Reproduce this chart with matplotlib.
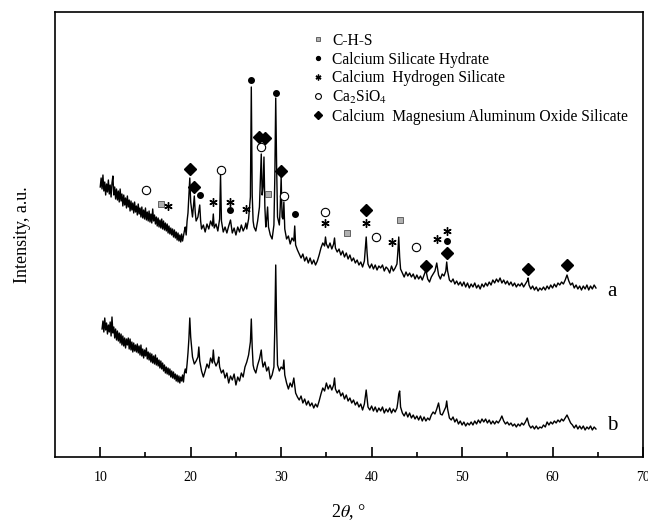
import matplotlib
matplotlib.use("Agg")
import matplotlib.pyplot as plt
from matplotlib.lines import Line2D

plt.rcParams["font.family"] = ["Liberation Serif", "DejaVu Serif"]
plt.rcParams["mathtext.fontset"] = "stix"

# XRD scans (2theta in degrees, intensity in arbitrary units)
scan_a = [
    (10.0, 270), (10.1, 279), (10.2, 268), (10.3, 282), (10.4, 266), (10.5, 275), (10.6, 262), (10.7, 273), (10.8, 265), (10.9, 277),
    (11.0, 263), (11.1, 272), (11.2, 260), (11.3, 274), (11.4, 281), (11.5, 262), (11.6, 270), (11.7, 258), (11.8, 268), (11.9, 257),
    (12.0, 266), (12.1, 255), (12.2, 268), (12.3, 256), (12.4, 263), (12.5, 251), (12.6, 262), (12.7, 252), (12.8, 259), (12.9, 249),
    (13.0, 261), (13.1, 250), (13.2, 257), (13.3, 246), (13.4, 256), (13.5, 247), (13.6, 254), (13.7, 244), (13.8, 255), (13.9, 245),
    (14.0, 251), (14.1, 242), (14.2, 253), (14.3, 243), (14.4, 249), (14.5, 240), (14.6, 250), (14.7, 239), (14.8, 247), (14.9, 238),
    (15.0, 249), (15.1, 237), (15.2, 245), (15.3, 236), (15.4, 246), (15.5, 235), (15.6, 243), (15.7, 234), (15.8, 248), (15.9, 236),
    (16.0, 242), (16.1, 233), (16.2, 240), (16.3, 231), (16.4, 239), (16.5, 230), (16.6, 237), (16.7, 229), (16.8, 238), (16.9, 228),
    (17.0, 236), (17.1, 227), (17.2, 234), (17.3, 226), (17.4, 233), (17.5, 224), (17.6, 231), (17.7, 223), (17.8, 229), (17.9, 222),
    (18.0, 228), (18.1, 220), (18.2, 227), (18.3, 219), (18.4, 225), (18.5, 217), (18.6, 224), (18.7, 216), (18.8, 222), (18.9, 215),
    (19.0, 223), (19.1, 216), (19.2, 221), (19.3, 226), (19.4, 230), (19.5, 222), (19.6, 236), (19.7, 244), (19.8, 262), (19.9, 279),
    (20.0, 255), (20.2, 240), (20.4, 261), (20.5, 245), (20.6, 236), (20.8, 240),
    (21.0, 252), (21.1, 236), (21.2, 228), (21.4, 232), (21.6, 225), (21.8, 233),
    (22.0, 228), (22.2, 236), (22.4, 231), (22.5, 243), (22.6, 229), (22.8, 233),
    (23.0, 226), (23.2, 238), (23.3, 282), (23.4, 236), (23.6, 225), (23.8, 230),
    (24.0, 224), (24.2, 231), (24.4, 237), (24.6, 224), (24.8, 229),
    (25.0, 222), (25.2, 230), (25.4, 225), (25.6, 232), (25.8, 226),
    (26.0, 230), (26.1, 234), (26.2, 228), (26.4, 238), (26.6, 260), (26.7, 370),
    (26.8, 262), (26.9, 236), (27.0, 230), (27.2, 226), (27.4, 236), (27.6, 250),
    (27.8, 303), (27.9, 262), (28.0, 270), (28.1, 300), (28.2, 250), (28.3, 230),
    (28.4, 238), (28.5, 250), (28.6, 230), (28.8, 222),
    (29.0, 218), (29.2, 232), (29.3, 280), (29.4, 359), (29.5, 290), (29.6, 240),
    (29.8, 232), (29.9, 250), (30.0, 280), (30.1, 240), (30.2, 238), (30.3, 255),
    (30.4, 228), (30.6, 218), (30.8, 221),
    (31.0, 213), (31.2, 219), (31.4, 216), (31.5, 231), (31.6, 212), (31.8, 207),
    (32.0, 203), (32.2, 199), (32.4, 203), (32.6, 196), (32.8, 200),
    (33.0, 194), (33.2, 199), (33.4, 193), (33.6, 197), (33.8, 192),
    (34.0, 196), (34.2, 202), (34.4, 209), (34.6, 214), (34.8, 211), (34.9, 220),
    (35.0, 213), (35.2, 209), (35.4, 214), (35.6, 208), (35.8, 213), (35.9, 219),
    (36.0, 209), (36.2, 205), (36.4, 208), (36.6, 202), (36.8, 206),
    (37.0, 200), (37.2, 204), (37.4, 198), (37.6, 202), (37.8, 196),
    (38.0, 199), (38.2, 194), (38.4, 197), (38.6, 192), (38.8, 195),
    (39.0, 190), (39.2, 196), (39.4, 220), (39.5, 204), (39.6, 193), (39.8, 189),
    (40.0, 193), (40.2, 188), (40.4, 192), (40.6, 187), (40.8, 191),
    (41.0, 189), (41.2, 192), (41.4, 186), (41.6, 190), (41.8, 188),
    (42.0, 184), (42.2, 191), (42.4, 186), (42.6, 189), (42.8, 193), (42.9, 205),
    (43.0, 220), (43.1, 200), (43.2, 188), (43.4, 184), (43.6, 180), (43.8, 185),
    (44.0, 181), (44.2, 184), (44.4, 180), (44.6, 183), (44.8, 178),
    (45.0, 182), (45.2, 178), (45.4, 181), (45.6, 177), (45.8, 182),
    (46.0, 187), (46.2, 178), (46.4, 175), (46.6, 180), (46.8, 183),
    (47.0, 186), (47.2, 194), (47.4, 182), (47.6, 178), (47.8, 183),
    (48.0, 181), (48.2, 186), (48.3, 195), (48.4, 186), (48.6, 177), (48.8, 175),
    (49.0, 178), (49.2, 173), (49.4, 176), (49.6, 172), (49.8, 175),
    (50.0, 171), (50.2, 175), (50.4, 170), (50.6, 174), (50.8, 169),
    (51.0, 173), (51.2, 170), (51.4, 174), (51.6, 169), (51.8, 172),
    (52.0, 168), (52.2, 173), (52.4, 170), (52.6, 174), (52.8, 171),
    (53.0, 175), (53.2, 172), (53.4, 177), (53.6, 174), (53.8, 178),
    (54.0, 175), (54.2, 179), (54.4, 174), (54.6, 177), (54.8, 173),
    (55.0, 176), (55.2, 172), (55.4, 175), (55.6, 171), (55.8, 174),
    (56.0, 170), (56.2, 173), (56.4, 171), (56.6, 174), (56.8, 170),
    (57.0, 173), (57.2, 176), (57.3, 179), (57.4, 172), (57.6, 168), (57.8, 171),
    (58.0, 167), (58.2, 170), (58.4, 166), (58.6, 169), (58.8, 167),
    (59.0, 170), (59.2, 167), (59.4, 171), (59.6, 168), (59.8, 172),
    (60.0, 169), (60.2, 173), (60.4, 170), (60.6, 174), (60.8, 172),
    (61.0, 175), (61.2, 173), (61.4, 177), (61.6, 182), (61.8, 176),
    (62.0, 172), (62.2, 174), (62.4, 169), (62.6, 172), (62.8, 168),
    (63.0, 171), (63.2, 167), (63.4, 171), (63.6, 168), (63.8, 172),
    (64.0, 167), (64.2, 171), (64.4, 168), (64.6, 172), (64.8, 169),
]

scan_b = [
    (10.2, 128), (10.3, 136), (10.4, 125), (10.5, 139), (10.6, 127), (10.7, 134), (10.8, 123), (10.9, 132),
    (11.0, 125), (11.1, 135), (11.2, 121), (11.3, 140), (11.4, 124), (11.5, 130), (11.6, 119), (11.7, 128), (11.8, 117), (11.9, 126),
    (12.0, 116), (12.1, 124), (12.2, 114), (12.3, 123), (12.4, 112), (12.5, 121), (12.6, 111), (12.7, 119), (12.8, 109), (12.9, 118),
    (13.0, 112), (13.1, 119), (13.2, 108), (13.3, 118), (13.4, 107), (13.5, 115), (13.6, 105), (13.7, 114), (13.8, 106), (13.9, 112),
    (14.0, 105), (14.1, 113), (14.2, 104), (14.3, 111), (14.4, 102), (14.5, 112), (14.6, 101), (14.7, 108), (14.8, 99), (14.9, 107),
    (15.0, 101), (15.1, 109), (15.2, 98), (15.3, 105), (15.4, 97), (15.5, 104), (15.6, 95), (15.7, 103), (15.8, 94), (15.9, 101),
    (16.0, 93), (16.1, 102), (16.2, 92), (16.3, 99), (16.4, 91), (16.5, 97), (16.6, 89), (16.7, 96), (16.8, 88), (16.9, 94),
    (17.0, 86), (17.1, 92), (17.2, 84), (17.3, 90), (17.4, 83), (17.5, 89), (17.6, 82), (17.7, 88), (17.8, 80), (17.9, 86),
    (18.0, 79), (18.1, 85), (18.2, 78), (18.3, 83), (18.4, 76), (18.5, 82), (18.6, 75), (18.7, 81), (18.8, 74), (18.9, 80),
    (19.0, 76), (19.1, 82), (19.2, 75), (19.3, 84), (19.4, 88), (19.5, 84), (19.6, 93), (19.7, 104), (19.8, 118), (19.9, 139),
    (20.0, 120), (20.2, 100), (20.4, 93), (20.6, 96), (20.8, 100), (20.9, 110),
    (21.0, 96), (21.2, 86), (21.4, 80), (21.6, 86), (21.8, 93),
    (22.0, 89), (22.2, 99), (22.4, 94), (22.5, 107), (22.6, 96), (22.8, 91),
    (23.0, 95), (23.1, 100), (23.2, 90), (23.4, 84), (23.6, 87), (23.8, 79),
    (24.0, 84), (24.2, 74), (24.4, 81), (24.6, 77), (24.8, 83),
    (25.0, 72), (25.2, 80), (25.4, 76), (25.6, 84), (25.8, 80),
    (26.0, 90), (26.2, 95), (26.4, 102), (26.6, 115), (26.7, 138), (26.8, 110),
    (26.9, 92), (27.0, 88), (27.2, 84), (27.4, 92), (27.6, 98), (27.8, 107),
    (27.9, 96), (28.0, 90), (28.2, 95), (28.4, 86), (28.6, 90), (28.8, 78),
    (29.0, 82), (29.2, 90), (29.3, 130), (29.4, 192), (29.5, 130), (29.6, 92),
    (29.8, 86), (30.0, 90), (30.2, 88), (30.3, 97), (30.4, 82), (30.6, 74), (30.8, 68),
    (31.0, 74), (31.2, 70), (31.4, 79), (31.6, 64), (31.8, 60),
    (32.0, 57), (32.2, 61), (32.4, 54), (32.6, 58), (32.8, 52),
    (33.0, 56), (33.2, 51), (33.4, 54), (33.6, 49), (33.8, 53),
    (34.0, 50), (34.2, 56), (34.4, 63), (34.6, 69), (34.8, 66),
    (35.0, 74), (35.2, 68), (35.4, 72), (35.6, 67), (35.8, 72), (35.9, 79),
    (36.0, 68), (36.2, 64), (36.4, 67), (36.6, 61), (36.8, 64),
    (37.0, 58), (37.2, 62), (37.4, 56), (37.6, 59), (37.8, 54),
    (38.0, 57), (38.2, 52), (38.4, 55), (38.6, 50), (38.8, 53),
    (39.0, 47), (39.2, 53), (39.4, 67), (39.5, 58), (39.6, 50), (39.8, 47),
    (40.0, 51), (40.2, 46), (40.4, 50), (40.6, 45), (40.8, 49),
    (41.0, 46), (41.2, 50), (41.4, 44), (41.6, 48), (41.8, 45),
    (42.0, 49), (42.2, 44), (42.4, 48), (42.6, 45), (42.8, 49), (42.9, 55),
    (43.0, 63), (43.1, 66), (43.2, 50), (43.4, 44), (43.6, 41), (43.8, 45),
    (44.0, 40), (44.2, 44), (44.4, 39), (44.6, 42), (44.8, 38),
    (45.0, 41), (45.2, 37), (45.4, 41), (45.6, 36), (45.8, 40),
    (46.0, 36), (46.2, 39), (46.4, 37), (46.6, 42), (46.8, 45),
    (47.0, 43), (47.2, 48), (47.4, 54), (47.6, 43), (47.8, 42),
    (48.0, 46), (48.2, 50), (48.3, 56), (48.4, 48), (48.6, 39), (48.8, 37),
    (49.0, 40), (49.2, 35), (49.4, 38), (49.6, 33), (49.8, 36),
    (50.0, 32), (50.2, 35), (50.4, 31), (50.6, 34), (50.8, 32),
    (51.0, 35), (51.2, 32), (51.4, 36), (51.6, 33), (51.8, 37),
    (52.0, 34), (52.2, 38), (52.4, 35), (52.6, 38), (52.8, 34),
    (53.0, 37), (53.2, 33), (53.4, 36), (53.6, 33), (53.8, 36),
    (54.0, 34), (54.2, 37), (54.4, 41), (54.6, 36), (54.8, 33),
    (55.0, 35), (55.2, 32), (55.4, 34), (55.6, 31), (55.8, 33),
    (56.0, 30), (56.2, 33), (56.4, 31), (56.6, 34), (56.8, 32),
    (57.0, 35), (57.2, 39), (57.4, 32), (57.6, 29), (57.8, 31),
    (58.0, 28), (58.2, 31), (58.4, 28), (58.6, 30), (58.8, 29),
    (59.0, 32), (59.2, 30), (59.4, 35), (59.6, 32), (59.8, 35),
    (60.0, 33), (60.2, 36), (60.4, 34), (60.6, 37), (60.8, 35),
    (61.0, 38), (61.2, 36), (61.4, 39), (61.6, 42), (61.8, 38),
    (62.0, 34), (62.2, 32), (62.4, 29), (62.6, 32), (62.8, 28),
    (63.0, 31), (63.2, 28), (63.4, 31), (63.6, 27), (63.8, 30),
    (64.0, 28), (64.2, 31), (64.4, 27), (64.6, 30), (64.8, 28),
]

# phase markers above scan a: (2theta, height)
chs_pos = [(16.7, 253), (28.5, 263), (37.3, 224), (43.1, 237)]
csh_pos = [(21.0, 262), (24.4, 247), (26.7, 377), (29.4, 364), (31.5, 243), (48.3, 216)]
chsil_pos = [(17.5, 251), (22.5, 255), (24.3, 255), (26.1, 248), (34.9, 234),
             (39.4, 234), (42.2, 215), (47.2, 218), (48.3, 226)]
c2s_pos = [(15.1, 267), (23.3, 287), (27.8, 310), (30.3, 261), (34.9, 245),
           (40.5, 220), (44.9, 210)]
cmas_pos = [(19.9, 288), (20.4, 270), (27.5, 320), (28.2, 319), (30.0, 286),
            (39.4, 247), (46.0, 191), (48.3, 204), (57.3, 188), (61.6, 192)]

phase_names = ["C-H-S", "Calcium Silicate Hydrate", "Calcium  Hydrogen Silicate",
               r"Ca$_2$SiO$_4$", "Calcium  Magnesium Aluminum Oxide Silicate"]

fig = plt.figure(figsize=(6.48, 5.28), dpi=100)
ax = fig.add_axes([55/648, 71/528, 588/648, 445/528])

xa, ya = zip(*scan_a)
xb, yb = zip(*scan_b)
ax.plot(xa, ya, color="black", lw=1.0)
ax.plot(xb, yb, color="black", lw=1.0)

styles = [
    dict(marker="s", ms=5, mfc="#b0b0b0", mec="#505050", mew=0.6),
    dict(marker="o", ms=4, mfc="black", mec="black"),
    dict(marker=(6, 2, 0), ms=6, mfc="black", mec="black", mew=1.0),
    dict(marker="o", ms=6, mfc="white", mec="black", mew=0.8),
    dict(marker="D", ms=6, mfc="black", mec="black"),
]
handles = []
for pos, st, name in zip([chs_pos, csh_pos, chsil_pos, c2s_pos, cmas_pos], styles, phase_names):
    px, py = zip(*pos)
    ax.plot(px, py, ls="none", **st)
    handles.append(Line2D([], [], ls="none", label=name, **st))

leg = ax.legend(handles=handles, loc="upper left", bbox_to_anchor=(0.44, 0.953),
                frameon=False, fontsize=11.2, handlelength=0.6, handletextpad=0.6,
                labelspacing=0.17, borderaxespad=0, borderpad=0, markerscale=0.7)

ax.text(66.0, 165, "a", fontsize=15, va="center", ha="left")
ax.text(66.0, 32, "b", fontsize=15, va="center", ha="left")

ax.set_xlim(5, 70)
ax.set_ylim(0, 445)
ax.set_xticks([10, 20, 30, 40, 50, 60, 70])
ax.set_xticks([15, 25, 35, 45, 55, 65], minor=True)
ax.tick_params(axis="x", which="major", direction="in", length=7, width=1.2, labelsize=10, pad=10)
ax.tick_params(axis="x", which="minor", direction="in", length=3.5, width=1.2)
ax.set_yticks([])
for s in ax.spines.values():
    s.set_linewidth(1.2)

ax.set_xlabel(r"2$\theta$, °", fontsize=13, labelpad=13)
ax.set_ylabel("Intensity, a.u.", fontsize=13, labelpad=17)

fig.savefig("out.png", dpi=100)
